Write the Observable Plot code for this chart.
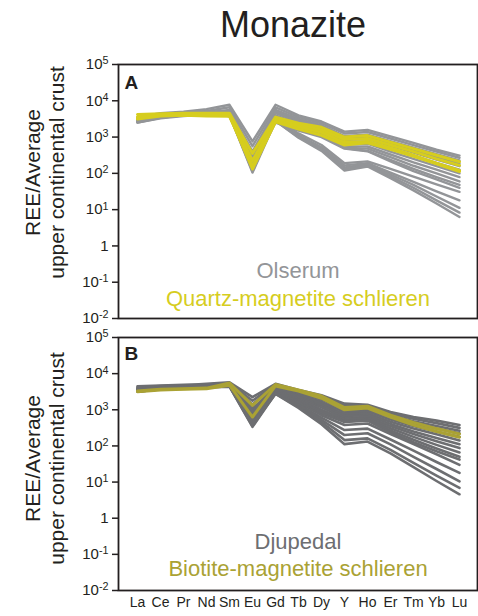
<!DOCTYPE html>
<html><head><meta charset="utf-8">
<script src="https://cdn.jsdelivr.net/npm/d3@7"></script>
<script src="https://cdn.jsdelivr.net/npm/@observablehq/plot@0.6"></script>
<style>
body{margin:0;background:#fff;}
#fig{position:relative;width:478px;height:616px;font-family:"Liberation Sans",Arial,sans-serif;color:#231f20;overflow:hidden;background:#fff}
#title{position:absolute;left:143px;width:300px;top:7px;text-align:center;font-size:36px;line-height:36px;z-index:5}
.panel{position:absolute;left:0}
</style></head><body>
<div id="fig"><div id="pa" class="panel" style="top:0"></div><div id="pb" class="panel" style="top:325px"></div><div id="title">Monazite</div></div>
<script>
const elements = ["La","Ce","Pr","Nd","Sm","Eu","Gd","Tb","Dy","Y","Ho","Er","Tm","Yb","Lu"];
const yTicks = [0.01, 0.1, 1, 10, 100, 1000, 10000, 100000];

// Panel A: Olserum (grey) and quartz-magnetite schlieren (yellow)
const olserum = [
  [3550,4570,5010,5890,7760,759,7760,3980,2690,1410,1580,1050,692,447,309],
  [3160,4170,4680,5250,6610,562,6610,3550,2400,1260,1380,912,603,398,269],
  [2820,3800,4370,4790,5620,398,5620,3160,2140,1070,1170,776,513,339,229],
  [3020,3980,4470,5010,5010,282,5010,2880,1910,955,1020,661,427,282,186],
  [2630,3550,3980,4370,4470,200,4570,2630,1660,832,891,575,372,240,158],
  [3310,4270,4790,5010,4790,158,3980,2400,1450,724,759,479,302,195,126],
  [2510,3310,3800,4170,3980,126,3550,2140,1260,631,661,398,251,158,100],
  [2820,3630,4170,4570,4170,112,3160,1910,1150,562,550,331,200,126,79],
  [2690,3550,3980,4270,3800,316,2820,1660,1070,513,479,282,162,100,60],
  [2950,3800,4270,4680,4370,224,2630,1580,1050,501,417,234,132,79,48],
  [2750,3720,4170,4470,3980,141,2510,1510,1000,479,407,214,115,68,40],
  [2820,3720,4170,4570,4170,251,3160,1260,603,191,214,132,81,50,31],
  [2510,3390,3980,4370,3800,178,3020,1120,525,166,191,105,58,32,18],
  [2630,3550,4070,4470,3980,126,2880,1050,479,145,178,93,48,23,11.2],
  [2750,3630,4170,4570,4070,105,2750,1000,447,132,166,83,40,18,8.3],
  [2570,3470,3980,4270,3890,200,2820,955,417,120,155,74,34,14.8,6.3]
];
const quartzSchlieren = [
  [4170,4370,4570,4570,4570,355,3550,2400,1860,1000,1100,724,479,316,209],
  [3550,4170,4270,4170,4170,224,3160,2140,1580,851,912,603,398,251,166],
  [3160,3800,3980,3800,3720,158,2820,1910,1350,708,759,501,316,191,120],
  [3310,3980,4170,3980,3980,132,2630,1660,1120,603,692,457,295,182,112]
];

// Panel B: Djupedal (grey) and biotite-magnetite schlieren (olive)
const djupedal = [
  [4170,4570,4790,5250,5750,2240,5250,3550,2510,1480,1380,871,631,501,380],
  [4470,4680,4900,5010,5500,1780,5010,3310,2340,1320,1260,794,562,427,316],
  [3800,4270,4470,4790,5250,1410,4790,3160,2140,1120,1120,708,479,355,263],
  [3550,3980,4270,4570,5010,1000,4570,2950,1910,1000,1000,631,417,302,224],
  [3980,4370,4570,4680,5130,794,4270,2690,1660,871,891,537,355,251,178],
  [3310,3800,4170,4370,4790,631,3980,2510,1480,759,794,468,302,209,141],
  [3720,4170,4370,4570,4900,501,3800,2340,1320,676,708,407,251,166,112],
  [3160,3720,4070,4270,4570,398,3550,2190,1170,603,631,355,214,135,87],
  [3470,3980,4270,4470,4680,1120,3390,2000,1000,537,575,309,178,107,66],
  [3630,4070,4370,4570,5010,708,3160,1820,891,479,525,269,148,85,50],
  [3240,3800,4170,4370,4470,355,3020,1660,794,457,501,240,126,71,42],
  [3390,3890,4170,4370,4680,891,3160,1580,708,380,417,214,112,59,30],
  [3550,3980,4270,4470,4790,562,2950,1410,603,275,302,151,74,36,18],
  [3310,3800,4070,4270,4570,447,2880,1320,525,200,224,110,50,23,10.5],
  [3160,3720,3980,4170,4370,339,2820,1200,457,145,162,78,34,15.1,6.9],
  [3470,3980,4170,4370,4570,398,2750,1120,398,112,132,62,26,10.7,4.6]
];
const biotiteSchlieren = [
  [3310,3720,3800,3980,5500,1320,5010,3550,2400,1150,1260,708,447,302,214],
  [3160,3550,3720,3800,4790,631,4570,3310,2090,1000,1120,631,380,251,174]
];

const yTitle = ["REE/Average", "upper continental crust"];

function tidy(series) {
  const out = [];
  series.forEach((row, s) => row.forEach((v, j) => out.push({s, el: elements[j], v})));
  return out;
}

function supTicks(svg) {
  svg.querySelectorAll('g[aria-label="y-axis tick label"] text').forEach(t => {
    const s = t.textContent;
    if (s.startsWith("10^")) {
      t.textContent = "10";
      const ts = document.createElementNS("http://www.w3.org/2000/svg", "tspan");
      ts.setAttribute("dy", "-0.45em");
      ts.setAttribute("font-size", "0.72em");
      ts.textContent = s.slice(3);
      t.appendChild(ts);
    }
  });
}

function panel(o) {
  const svg = Plot.plot({
    width: 478, height: o.height,
    marginLeft: 118, marginRight: 1, marginTop: o.marginTop, marginBottom: o.marginBottom,
    x: {type: "point", domain: elements, padding: 0.5, axis: o.showX ? undefined : null},
    y: {type: "log", domain: [0.01, 100000]},
    style: {fontFamily: '"Liberation Sans", Arial, sans-serif', color: "#231f20", background: "transparent", overflow: "visible"},
    marks: [
      Plot.line(tidy(o.grey), {x: "el", y: "v", z: "s", stroke: o.greyColor, strokeWidth: o.greyWidth}),
      Plot.line(tidy(o.hl), {x: "el", y: "v", z: "s", stroke: o.hlColor, strokeWidth: 3}),
      Plot.frame({stroke: "#231f20", strokeWidth: 1.8}),
      Plot.axisY({ticks: yTicks, tickSize: 6, tickPadding: 4, fontSize: 15, strokeWidth: 1.5, label: null,
        tickFormat: d => d === 1 ? "1" : "10^" + Math.round(Math.log10(d))}),
      o.showX ? Plot.axisX({tickSize: 0, tickPadding: 7, fontSize: 14, label: null}) : null,
      Plot.text([o.letter], {text: d => d, frameAnchor: "top-left", dx: 6, dy: o.letterDy, lineAnchor: "bottom", textAnchor: "start", fontSize: 19, fontWeight: "bold"}),
      Plot.text([o.leg1], {text: d => d, frameAnchor: "bottom", dy: o.leg1Dy, lineAnchor: "bottom", textAnchor: "middle", fontSize: 22, fill: o.greyColor}),
      Plot.text([o.leg2], {text: d => d, frameAnchor: "bottom", dy: o.leg2Dy, lineAnchor: "bottom", textAnchor: "middle", fontSize: 22, fill: o.hlColor}),
      Plot.text([yTitle[0]], {text: d => d, frameAnchor: "left", rotate: -90, dx: 39 - 118, dy: o.titleDy, lineAnchor: "bottom", textAnchor: "middle", fontSize: 21}),
      Plot.text([yTitle[1]], {text: d => d, frameAnchor: "left", rotate: -90, dx: 63 - 118, dy: o.titleDy, lineAnchor: "bottom", textAnchor: "middle", fontSize: 21})
    ]
  });
  supTicks(svg);
  return svg;
}

document.getElementById("pa").appendChild(panel({
  height: 325, marginTop: 64, marginBottom: 7, showX: false,
  grey: olserum, greyColor: "#939598", greyWidth: 2.4, hl: quartzSchlieren, hlColor: "#d6cd1e",
  letter: "A", letterDy: 24, leg1: "Olserum", leg1Dy: -41, leg2: "Quartz-magnetite schlieren", leg2Dy: -13,
  titleDy: -19
}));
document.getElementById("pb").appendChild(panel({
  height: 291, marginTop: 12, marginBottom: 26, showX: true,
  grey: djupedal, greyColor: "#6d6e71", greyWidth: 2.6, hl: biotiteSchlieren, hlColor: "#aaa234",
  letter: "B", letterDy: 22, leg1: "Djupedal", leg1Dy: -42, leg2: "Biotite-magnetite schlieren", leg2Dy: -15,
  titleDy: -5.5
}));
</script>
</body></html>
